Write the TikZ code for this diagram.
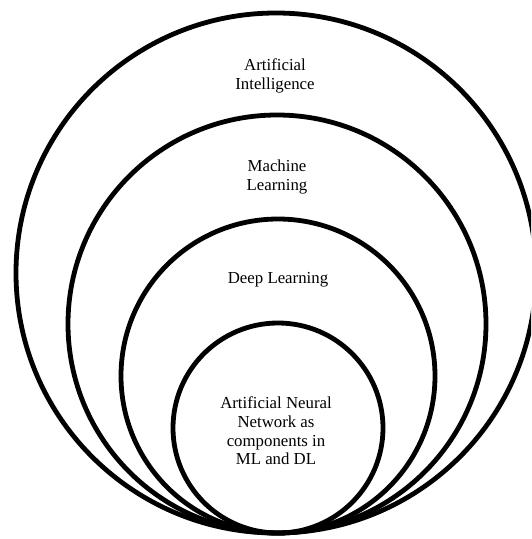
\documentclass[tikz,border=0pt]{standalone}
\usepackage{fontspec}
\setmainfont{Liberation Serif}
\begin{document}
\begin{tikzpicture}[x=1pt,y=-1pt,
  ring/.style={draw=black,line width=4.8pt},
  label/.style={align=center,inner sep=0pt,text=black,
    font=\fontsize{16.8}{18.7}\selectfont}]
  \useasboundingbox (0,0) rectangle (531,539);
  \clip (0,0) rectangle (531,539);
  % nested sets, all touching at the bottom
  \draw[ring] (276,273) circle[radius=260pt];
  \draw[ring] (277,324) circle[radius=209pt];
  \draw[ring] (278,376) circle[radius=157pt];
  \draw[ring] (278,428) circle[radius=105pt];
  % captions
  \node[label] (ai)  at (275,76)  {Artificial\\Intelligence};
  \node[label] (ml)  at (277,177) {Machine\\Learning};
  \node[label] (dl)  at (278,280) {Deep Learning};
  \node[label] (ann) at (276,431) {Artificial Neural\\Network as\\components in\\ML and DL};
\end{tikzpicture}
\end{document}
